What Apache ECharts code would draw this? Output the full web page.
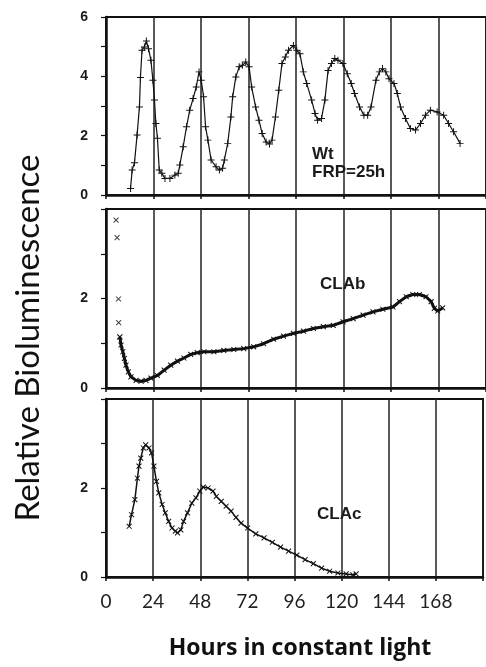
<!DOCTYPE html>
<html>
<head>
<meta charset="utf-8">
<script src="https://cdn.jsdelivr.net/npm/echarts@6/dist/echarts.min.js"></script>
<style>
html, body { margin: 0; padding: 0; background: #fff; }
#main { width: 486px; height: 667px; }
</style>
</head>
<body>
<div id="main"></div>
<script>
// hours in constant light (x) and relative bioluminescence (y)
var wtHours = [12.4, 13.2, 14.4, 15.7, 16.9, 17.4, 18.2, 19.4, 20.4, 21.5, 22.7, 23.7, 24.5, 25.2, 26.0, 26.9, 28.2, 29.8, 32.3, 34.8,
	36.5, 37.3, 39.0, 40.7, 42.3, 44.0, 45.6, 47.0, 48.1, 49.3, 50.3, 51.5, 53.1, 55.6, 57.3, 58.9, 59.8, 61.5, 63.1, 64.0,
	65.6, 67.3, 68.9, 70.6, 72.3, 73.6, 75.6, 77.3, 78.9, 80.9, 82.6, 83.9, 85.6, 87.3, 88.9, 90.6, 92.2, 94.7, 96.4, 98.0,
	99.7, 101.4, 103.9, 105.6, 106.9, 108.9, 110.6, 112.2, 113.9, 115.6, 117.2, 119.7, 121.9, 123.9, 125.6, 128.1, 130.3, 132.2, 133.9, 136.4,
	138.1, 139.7, 141.4, 143.0, 145.5, 147.2, 148.8, 151.3, 153.8, 156.4, 158.9, 161.4, 163.9, 167.3, 170.6, 173.1, 175.6, 178.9];
var wtLum = [0.22, 0.84, 1.09, 2.02, 2.97, 3.96, 4.88, 4.99, 5.19, 4.93, 4.54, 3.87, 3.2, 2.41, 1.91, 0.84, 0.73, 0.56, 0.56, 0.67,
	0.73, 1.01, 1.63, 2.3, 2.86, 3.25, 3.64, 4.15, 3.87, 3.31, 2.3, 1.85, 1.18, 0.95, 0.84, 0.9, 1.18, 1.74, 2.63, 3.31,
	3.98, 4.32, 4.37, 4.48, 4.32, 3.64, 2.97, 2.52, 2.07, 1.79, 1.72, 1.85, 2.63, 3.53, 4.43, 4.65, 4.88, 5.04, 4.88, 4.76,
	4.15, 3.76, 3.2, 2.75, 2.52, 2.58, 3.2, 4.2, 4.43, 4.6, 4.54, 4.43, 4.09, 3.76, 3.42, 2.97, 2.69, 2.69, 2.97, 3.87,
	4.15, 4.26, 4.15, 3.92, 3.76, 3.42, 2.97, 2.58, 2.24, 2.19, 2.41, 2.69, 2.86, 2.8, 2.69, 2.41, 2.13, 1.74];

var clabHours = [5.1, 5.6, 6.3, 6.4, 7.0, 7.6, 8.5, 9.3, 10.1, 11.3, 12.6, 15.2, 17.7, 20.2, 22.7, 26.0, 29.4, 32.7, 36.1, 39.4,
	42.8, 46.1, 49.5, 54.5, 59.5, 64.6, 69.6, 74.6, 79.6, 84.7, 89.7, 94.7, 99.8, 104.8, 109.8, 114.8, 119.8, 124.9, 129.9, 134.9,
	139.9, 145.0, 148.3, 151.7, 155.0, 158.4, 161.7, 164.3, 165.9, 167.6, 170.1];
var clabLum = [3.75, 3.36, 1.99, 1.46, 1.14, 0.96, 0.81, 0.66, 0.51, 0.36, 0.25, 0.17, 0.15, 0.17, 0.22, 0.28, 0.40, 0.51, 0.60, 0.67,
	0.75, 0.79, 0.81, 0.81, 0.84, 0.86, 0.88, 0.92, 0.99, 1.09, 1.16, 1.22, 1.27, 1.33, 1.37, 1.40, 1.48, 1.55, 1.63, 1.70,
	1.76, 1.81, 1.93, 2.04, 2.09, 2.09, 2.04, 1.93, 1.78, 1.72, 1.79];

var clacHours = [11.8, 13.0, 14.7, 16.0, 16.8, 17.7, 19.0, 20.2, 21.9, 23.2, 24.4, 25.7, 26.9, 28.6, 30.2, 31.9, 33.6, 35.3, 36.4, 38.1,
	39.5, 41.5, 43.7, 45.8, 47.8, 49.5, 52.0, 54.5, 56.2, 58.7, 61.2, 63.7, 66.2, 68.8, 72.1, 76.3, 80.5, 84.7, 88.9, 93.0,
	97.2, 101.4, 105.6, 109.8, 113.9, 118.1, 122.3, 125.7, 127.4];
var clacLum = [1.14, 1.40, 1.74, 2.22, 2.49, 2.67, 2.90, 2.97, 2.90, 2.79, 2.49, 2.15, 1.89, 1.63, 1.44, 1.25, 1.10, 1.03, 0.99, 1.06,
	1.25, 1.44, 1.66, 1.78, 1.93, 2.02, 2.00, 1.93, 1.81, 1.70, 1.59, 1.48, 1.34, 1.21, 1.10, 0.97, 0.88, 0.78, 0.67, 0.58,
	0.49, 0.39, 0.30, 0.20, 0.13, 0.09, 0.07, 0.05, 0.07];

var xTicks = [0, 24, 48, 72, 96, 120, 144, 168];

function pairs(xs, ys) {
	var out = [];
	for (var i = 0; i < xs.length; i++) out.push([xs[i], ys[i]]);
	return out;
}

var clabAll = pairs(clabHours, clabLum);
var clabLoose = clabAll.filter(function (p) { return p[0] < 7.3; });   // first readings stand alone, no line
var clabCurve = clabAll.filter(function (p) { return p[0] >= 7.0; });

var plusSym = 'path://M0,4.3H10V5.7H0ZM4.3,0H5.7V10H4.3Z';
var ink = '#111';

var grids = [
	{ left: 106, width: 384, top: 17, height: 178 },
	{ left: 106, width: 384, top: 209, height: 179 },
	{ left: 106, width: 384, top: 399, height: 178 }
];
grids.forEach(function (g) {
	g.show = true;
	g.borderColor = ink;
	g.borderWidth = 2;
	g.backgroundColor = 'transparent';
});

function xAxisFor(i, labels) {
	return {
		type: 'value', gridIndex: i, min: 0, max: 192, interval: 24,
		axisLine: { show: true, onZero: false, lineStyle: { color: ink, width: 2.5 } },
		axisTick: { show: true, inside: false, length: 4, lineStyle: { color: ink, width: 1.5 } },
		splitLine: { show: true, lineStyle: { color: '#222', width: 1.5 } },
		axisLabel: {
			show: labels, margin: 15, color: '#222', fontFamily: 'Lato', fontSize: 19,
			formatter: function (v) { return xTicks.indexOf(v) >= 0 ? String(v) : ''; }
		}
	};
}

function yAxisFor(i, max) {
	return {
		type: 'value', gridIndex: i, min: 0, max: max, interval: 1,
		axisLine: { show: true, onZero: false, lineStyle: { color: ink, width: 2.5 } },
		axisTick: { show: true, inside: false, length: 5, lineStyle: { color: ink, width: 1.2 } },
		splitLine: { show: false },
		axisLabel: {
			margin: 18, color: '#1a1a1a', fontFamily: 'Liberation Sans', fontWeight: 'bold', fontSize: 14,
			formatter: function (v) {
				if (v % 2 !== 0) return '';
				if (max === 4 && v === 4) return '';
				return String(v);
			}
		}
	};
}

function panelText(txt, x, y, w, h) {
	return {
		type: 'group', left: x, top: y, z: 100,
		children: [
			{ type: 'rect', shape: { x: 0, y: 0, width: w, height: h }, style: { fill: '#fff' } },
			{
				type: 'text', x: 6, y: h / 2,
				style: {
					text: txt, fill: '#1a1a1a', font: 'bold 17px "Liberation Sans"',
					textVerticalAlign: 'middle', lineHeight: 18
				}
			}
		]
	};
}

var myChart = echarts.init(document.getElementById('main'));
var option = {
	animation: false,
	backgroundColor: '#fff',
	grid: grids,
	xAxis: [xAxisFor(0, false), xAxisFor(1, false), xAxisFor(2, true)],
	yAxis: [yAxisFor(0, 6), yAxisFor(1, 4), yAxisFor(2, 4)],
	series: [
		{
			name: 'Wt', type: 'line', xAxisIndex: 0, yAxisIndex: 0,
			data: pairs(wtHours, wtLum),
			symbol: plusSym, symbolSize: 7,
			itemStyle: { color: ink },
			lineStyle: { color: ink, width: 1.2 }
		},
		{
			name: 'CLA b loose', type: 'scatter', xAxisIndex: 1, yAxisIndex: 1,
			data: clabLoose,
			symbol: plusSym, symbolRotate: 45, symbolSize: 7,
			itemStyle: { color: ink }
		},
		{
			name: 'CLA b', type: 'line', xAxisIndex: 1, yAxisIndex: 1,
			data: clabCurve,
			symbol: plusSym, symbolRotate: 45, symbolSize: 7,
			itemStyle: { color: ink },
			lineStyle: { color: ink, width: 3 }
		},
		{
			name: 'CLA c', type: 'line', xAxisIndex: 2, yAxisIndex: 2,
			data: pairs(clacHours, clacLum),
			symbol: plusSym, symbolRotate: 45, symbolSize: 7,
			itemStyle: { color: ink },
			lineStyle: { color: ink, width: 1.5 }
		}
	],
	graphic: [
		panelText('Wt\nFRP=25h', 306, 138, 94, 50),
		panelText('CLAb', 314, 272, 64, 24),
		panelText('CLAc', 311, 502, 66, 24),
		{
			type: 'text', x: 300, y: 648, z: 100,
			style: {
				text: 'Hours in constant light', fill: '#111', font: 'bold 23px "Open Sans"',
				textAlign: 'center', textVerticalAlign: 'middle'
			}
		},
		{
			type: 'text', x: 28, y: 338, rotation: Math.PI / 2, z: 100,
			style: {
				text: 'Relative Bioluminescence', fill: '#111', font: '33px Lato',
				textAlign: 'center', textVerticalAlign: 'middle'
			}
		}
	]
};
myChart.setOption(option);
</script>
</body>
</html>
